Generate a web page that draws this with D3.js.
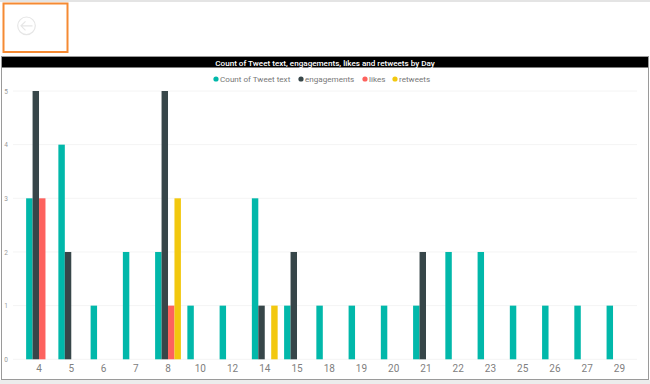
<!DOCTYPE html>
<html><head><meta charset="utf-8">
<script src="https://cdn.jsdelivr.net/npm/d3@7/dist/d3.min.js"></script>
<style>html,body{margin:0;padding:0;background:#fff;overflow:hidden}svg{display:block}text{font-family:Roboto,"Open Sans",sans-serif}</style>
</head><body><svg id="c" width="650" height="384"></svg>
<script>
const days = ["4","5","6","7","8","10","12","14","15","18","19","20","21","22","23","25","26","27","29"];
const seriesNames = ["Count of Tweet text","engagements","likes","retweets"];
const seriesColors = ["#01B8AA","#374649","#FD625E","#F2C80F"];
const tweetCount = [3,4,1,2,2,1,1,3,1,1,1,1,1,2,2,1,1,1,1];
const engagements = [5,2,0,0,5,0,0,1,2,0,0,0,2,0,0,0,0,0,0];
const likes = [3,0,0,0,1,0,0,0,0,0,0,0,0,0,0,0,0,0,0];
const retweets = [0,0,0,0,3,0,0,1,0,0,0,0,0,0,0,0,0,0,0];
const yTicks = [0,1,2,3,4,5];
const title = "Count of Tweet text, engagements, likes and retweets by Day";
const allSeries = [tweetCount,engagements,likes,retweets];

const svg = d3.select("#c");
// page chrome
svg.append("rect").attr("width",650).attr("height",2).attr("fill","#e4e4e4");
svg.append("rect").attr("y",380).attr("width",650).attr("height",4).attr("fill","#ececec");
svg.append("rect").attr("x",1.5).attr("y",56.5).attr("width",647).attr("height",323).attr("fill","#fff").attr("stroke","#9a9a9a");
// back button
svg.append("rect").attr("x",3.5).attr("y",3.5).attr("width",64).attr("height",48.5).attr("fill","#fff").attr("stroke","#F58A33").attr("stroke-width",2);
const bk = svg.append("g").attr("fill","none").attr("stroke","#e6e6e6").attr("stroke-width",1.2);
bk.append("circle").attr("cx",26.5).attr("cy",25.8).attr("r",8.8);
bk.append("path").attr("d","M21 25.8H32.5M25.5 21.3L21 25.8L25.5 30.3");
// title bar
svg.append("rect").attr("x",2).attr("y",57).attr("width",646).attr("height",10.5).attr("fill","#000");
svg.append("text").attr("x",325).attr("y",65.5).attr("text-anchor","middle").attr("font-size",8.1).attr("font-weight",500).attr("fill","#fff").text(title);

const x0 = d3.scaleBand().domain(days).range([22.9,635.6]).paddingInner(0.2).paddingOuter(0.1);
const x1 = d3.scaleBand().domain(seriesNames).range([0,x0.bandwidth()]);
const y = d3.scaleLinear().domain([0,5]).range([359.3,91]);

// gridlines
svg.append("g").selectAll("line").data(yTicks).join("line")
  .attr("x1",13).attr("x2",637).attr("y1",d=>y(d)).attr("y2",d=>y(d)).attr("stroke","#f4f4f4");
// y axis
const ya = svg.append("g").attr("transform","translate(8,0)").call(d3.axisLeft(y).tickValues(yTicks).tickSize(0).tickPadding(0).tickFormat(d3.format("d")));
ya.select(".domain").remove();
ya.selectAll("text").attr("x",0).attr("text-anchor","end").attr("font-size",6.5).attr("fill","#999");
// bars
seriesNames.forEach((n,i)=>{
  svg.append("g").selectAll("rect").data(allSeries[i].map((v,j)=>({d:days[j],v})).filter(o=>o.v>0)).join("rect")
    .attr("x",o=>x0(o.d)+x1(n)).attr("width",x1.bandwidth())
    .attr("y",o=>y(o.v)).attr("height",o=>y(0)-y(o.v)).attr("fill",seriesColors[i]);
});
// x axis
const xa = svg.append("g").attr("transform","translate(0,359)").call(d3.axisBottom(x0).tickSize(0).tickPadding(6));
xa.select(".domain").remove();
xa.selectAll("text").attr("font-size",10).attr("fill","#808080");
// legend
const lg = svg.append("g");
const legendPos = [216,301,365,395];
seriesNames.forEach((n,i)=>{
  lg.append("circle").attr("cx",legendPos[i]).attr("cy",79).attr("r",2.6).attr("fill",seriesColors[i]);
  lg.append("text").attr("x",legendPos[i]+4).attr("y",82).attr("font-size",8.1).attr("fill","#777").text(n);
});
</script></body></html>
